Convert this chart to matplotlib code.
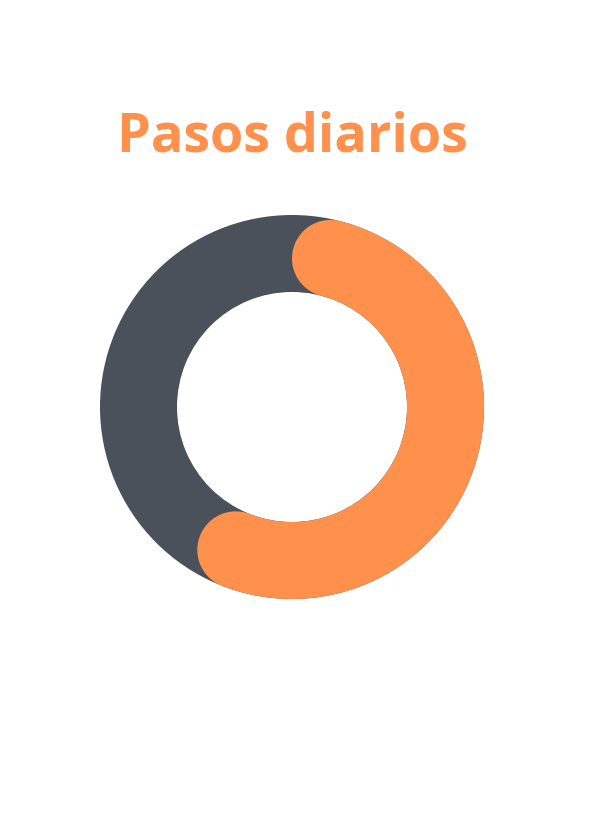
import matplotlib.pyplot as plt
import numpy as np
from matplotlib.patches import Wedge, Polygon

# Data
title = 'Pasos diarios'
labels = ['Completado', 'Restante']
values = [60, 40]

orange = '#FF914D'
dark = '#4A515A'

# Ring geometry (pixels)
cx, cy = 292, 407
r_out = 192
r_in = 115
w = r_out - r_in
r_mid = (r_out + r_in) / 2
cap = w / 2

fig = plt.figure(figsize=(5.94, 8.16), dpi=100)
ax = fig.add_axes([0, 0, 1, 1])
ax.set_xlim(0, 594)
ax.set_ylim(816, 0)
ax.set_aspect('equal')
ax.axis('off')

# Background ring
ax.add_patch(Wedge((cx, cy), r_out, 0, 360, width=w, facecolor=dark, edgecolor='none'))

# Progress arc with rounded ends (clockwise from 12 o'clock)
frac = values[0] / sum(values)
delta = np.arcsin(cap / r_mid)
a0 = delta
a1 = 2 * np.pi * frac - delta

def pt(r, a):
    # a measured clockwise from top, y axis points down
    return cx + r * np.sin(a), cy - r * np.cos(a)

t = np.linspace(a0, a1, 300)
outer = np.column_stack(pt(r_out, t))
inner = np.column_stack(pt(r_in, t[::-1]))
# end cap at a1
ex, ey = pt(r_mid, a1)
s = np.linspace(0, np.pi, 60)
ux, uy = np.sin(a1), -np.cos(a1)
tx, ty = np.cos(a1), np.sin(a1)
cap_end = np.column_stack([ex + cap * (ux * np.cos(s) + tx * np.sin(s)),
                           ey + cap * (uy * np.cos(s) + ty * np.sin(s))])
# start cap at a0
sx, sy = pt(r_mid, a0)
vx, vy = np.sin(a0), -np.cos(a0)
tx0, ty0 = np.cos(a0), np.sin(a0)
cap_start = np.column_stack([sx + cap * (-vx * np.cos(s) - tx0 * np.sin(s)),
                             sy + cap * (-vy * np.cos(s) - ty0 * np.sin(s))])
poly = np.vstack([outer, cap_end, inner, cap_start])
ax.add_patch(Polygon(poly, closed=True, facecolor=orange, edgecolor='none'))

ax.text(292, 152, title, ha='center', va='baseline', fontsize=38.8,
        fontweight='bold', family='Open Sans', color=orange)

plt.savefig('out.png', dpi=100)
